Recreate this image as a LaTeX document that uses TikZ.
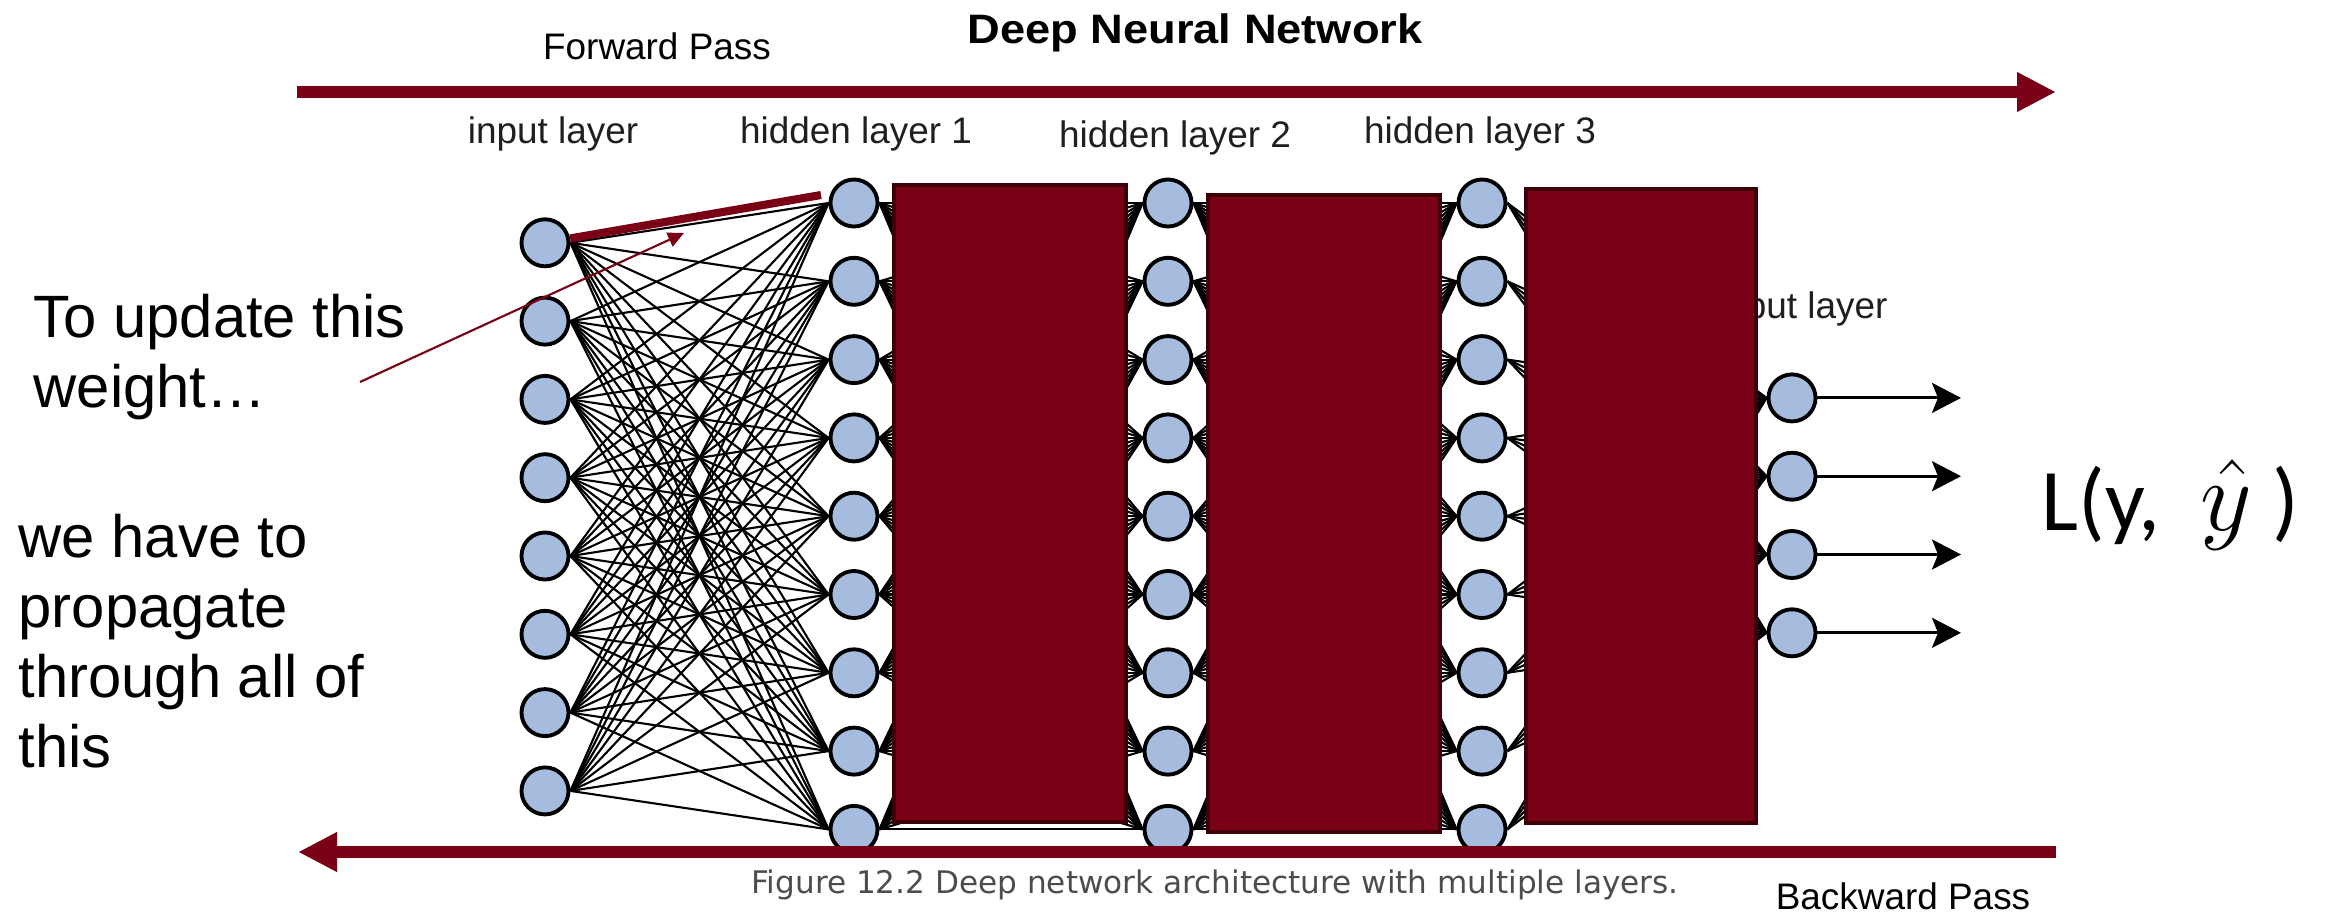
\documentclass[tikz,border=0pt]{standalone}
\usepackage{fontspec}
\setmainfont{Liberation Sans}
\newfontfamily\calib{Carlito}
\newfontfamily\verd{DejaVu Sans}
\usetikzlibrary{arrows.meta}
\definecolor{bordeaux}{RGB}{122,0,22}
\definecolor{bordfonce}{RGB}{62,0,8}
\definecolor{bleuneur}{RGB}{166,188,222}

\begin{document}
\begin{tikzpicture}[x=0.01cm, y=-0.01cm]
\tikzset{neurone/.style={draw, circle, fill=bleuneur, line width=1.1pt, minimum size=0.47cm, inner sep=0pt}}
\tikzset{bloc/.style={fill=bordeaux, draw=bordfonce, line width=1.2pt}}
\tikzset{lien/.style={line width=0.6pt}}
\tikzset{etiq/.style={font=\fontsize{10.5pt}{12pt}\selectfont, text=black!88, inner sep=0pt, anchor=base}}
\tikzset{passe/.style={bordeaux, line width=0.12cm, -{Triangle[length=0.39cm, width=0.37cm]}}}
\tikzset{sortie/.style={line width=0.85pt, -{Stealth[length=0.29cm, width=0.3cm, inset=0.06cm]}}}
\useasboundingbox (0,0) rectangle (2339,915);
% couches
\foreach \i in {1,...,8} \node[neurone] (I\i) at (545, {164.5+78.3*\i}) {};
\foreach \i in {1,...,9} \node[neurone] (A\i) at (854, {124.7+78.3*\i}) {};
\foreach \i in {1,...,9} \node[neurone] (B\i) at (1168, {124.7+78.3*\i}) {};
\foreach \i in {1,...,9} \node[neurone] (C\i) at (1482, {124.7+78.3*\i}) {};
\foreach \i in {1,...,4} \node[neurone] (O\i) at (1792, {319.6+78.3*\i}) {};
% liens
\foreach \i in {1,...,8} \foreach \j in {1,...,9} \draw[lien] (I\i.east) -- (A\j.west);
\foreach \i in {1,...,9} \foreach \j in {1,...,9} \draw[lien] (A\i.east) -- (B\j.west);
\foreach \i in {1,...,9} \foreach \j in {1,...,9} \draw[lien] (B\i.east) -- (C\j.west);
\foreach \i in {1,...,9} \foreach \j in {1,...,4} \draw[lien] (C\i.east) -- (O\j.west);
\foreach \i in {1,...,4} {
  \coordinate (S\i) at (1961, {319.6+78.3*\i});
  \draw[sortie] (O\i.east) -- (S\i);
}
% etiquettes
\node[etiq] (lin) at (553,143) {input layer};
\node[etiq] (lh1) at (856,143) {hidden layer 1};
\node[etiq] (lh2) at (1175,147) {hidden layer 2};
\node[etiq] (lh3) at (1480,143) {hidden layer 3};
\node[etiq] (lout) at (1791,318) {output layer};
% blocs caches
\draw[bloc] (894,185) rectangle (1126,822);
\draw[bloc] (1208,195) rectangle (1440,832);
\draw[bloc] (1526,189) rectangle (1756,823);
% poids
\coordinate (wtip) at (821,195);
\draw[bordeaux, line width=2.3pt] (I1) -- (wtip);
\coordinate (nfrom) at (360,382);
\coordinate (nto) at (684,233);
\draw[bordeaux, line width=0.6pt, -{Triangle[length=0.16cm, width=0.15cm]}] (nfrom) -- (nto);
% passes
\node[anchor=base, font=\bfseries\fontsize{11.7pt}{14pt}\selectfont] (titre) at (1195,43) {\scalebox{1.1}[1]{Deep Neural Network}};
\node[etiq, text=black] (fwd) at (657,60) {Forward Pass};
\coordinate (fa) at (297,92);
\coordinate (fb) at (2056,92);
\draw[passe] (fa) -- (fb);
\coordinate (ba) at (2056,852);
\coordinate (bb) at (298,852);
\draw[passe] (ba) -- (bb);
\node[etiq, text=black] (bwd) at (1903,909) {Backward Pass};
\node[anchor=base, inner sep=0pt, font=\verd\fontsize{8.85pt}{10pt}\selectfont, text=black!70] (legende) at (1215,893) {Figure 12.2 Deep network architecture with multiple layers.};
% textes
\node[anchor=base west, align=left, inner sep=0pt, font=\fontsize{17pt}{19.9pt}\selectfont] (note1) at (33,407) {To update this\\weight…};
\node[anchor=base west, align=left, inner sep=0pt, font=\fontsize{17pt}{19.9pt}\selectfont] (note2) at (18,767) {we have to\\propagate\\through all of\\this};
\node[anchor=base west, inner sep=0pt, font=\calib\fontsize{25pt}{30pt}\selectfont] (perte) at (2041,530) {L(y,\hspace{0.4cm}\scalebox{1.15}{$\hat{y}$}\hspace{0.2cm})};
\end{tikzpicture}
\end{document}
